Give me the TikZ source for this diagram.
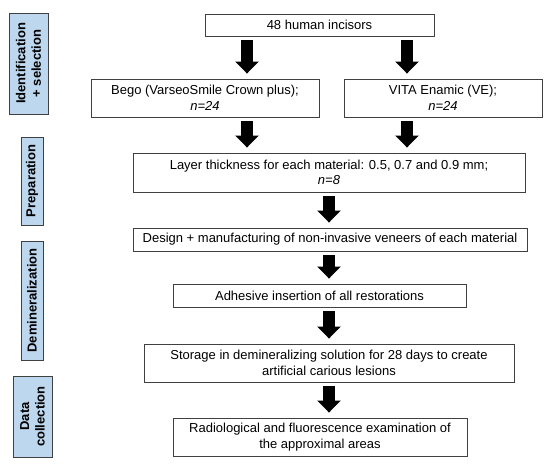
\documentclass[tikz,border=0pt]{standalone}
\usepackage{fontspec}
\setmainfont{Liberation Sans}
\usetikzlibrary{arrows.meta,positioning}

\definecolor{phaseblue}{HTML}{BDD7EE}
\definecolor{edgegray}{HTML}{404040}

\begin{document}
\begin{tikzpicture}[
  x=1pt, y=-1pt,
  box/.style={draw=edgegray, line width=0.9pt, inner sep=0pt, align=center, font=\fontsize{13}{15.5}\selectfont},
  phase/.style={box, fill=phaseblue, rotate=90, font=\fontsize{13}{15.5}\selectfont\bfseries},
  arr/.style={line width=12pt, -{Triangle[width=23pt,length=12pt]}, shorten <=4pt, shorten >=5pt}
]
\useasboundingbox (0,0) rectangle (550,468);

% phases on the left
\node[phase, minimum width=101pt, minimum height=39pt] (ident) at (28.5,63.5) {Identification\\+ selection};
\node[phase, minimum width=88pt, minimum height=22pt] (prep) at (32,181) {Preparation};
\node[phase, minimum width=119pt, minimum height=22pt] (demin) at (32,300.5) {Demineralization};
\node[phase, minimum width=81pt, minimum height=39pt] (data) at (32.5,416.5) {Data\\collection};

% main flow
\node[box, minimum width=229pt, minimum height=22pt] (incisors) at (319.5,25) {48 human incisors};
\node[box, minimum width=228pt, minimum height=38pt] (bego) at (205,98) {Bego (VarseoSmile Crown plus);\\\textit{n=24}};
\node[box, minimum width=198pt, minimum height=38pt] (vita) at (443,98) {VITA Enamic (VE);\\\textit{n=24}};
\node[box, minimum width=392pt, minimum height=39pt] (layer) at (329,172.5) {Layer thickness for each material: 0.5, 0.7 and 0.9 mm;\\\textit{n=8}};
\node[box, minimum width=394pt, minimum height=23pt] (design) at (330,239.5) {Design + manufacturing of non-invasive veneers of each material};
\node[box, minimum width=293pt, minimum height=23pt] (adhesive) at (319.5,295.5) {Adhesive insertion of all restorations};
\node[box, minimum width=370pt, minimum height=38pt] (storage) at (329,363) {Storage in demineralizing solution for 28 days to create\\artificial carious lesions};
\node[box, minimum width=294pt, minimum height=38pt] (radio) at (320,437) {Radiological and fluorescence examination of\\the approximal areas};

\draw[arr] ([xshift=42pt]bego.north |- incisors.south) -- ([xshift=42pt]bego.north);
\draw[arr] ([xshift=-36pt]vita.north |- incisors.south) -- ([xshift=-36pt]vita.north);
\draw[arr] ([xshift=42pt]bego.south) -- ([xshift=42pt]bego.south |- layer.north);
\draw[arr] ([xshift=-36pt]vita.south) -- ([xshift=-36pt]vita.south |- layer.north);
\draw[arr] (layer.south) -- (layer.south |- design.north);
\draw[arr] (layer.south |- design.south) -- (layer.south |- adhesive.north);
\draw[arr] (layer.south |- adhesive.south) -- (layer.south |- storage.north);
\draw[arr] (layer.south |- storage.south) -- (layer.south |- radio.north);
\end{tikzpicture}
\end{document}
